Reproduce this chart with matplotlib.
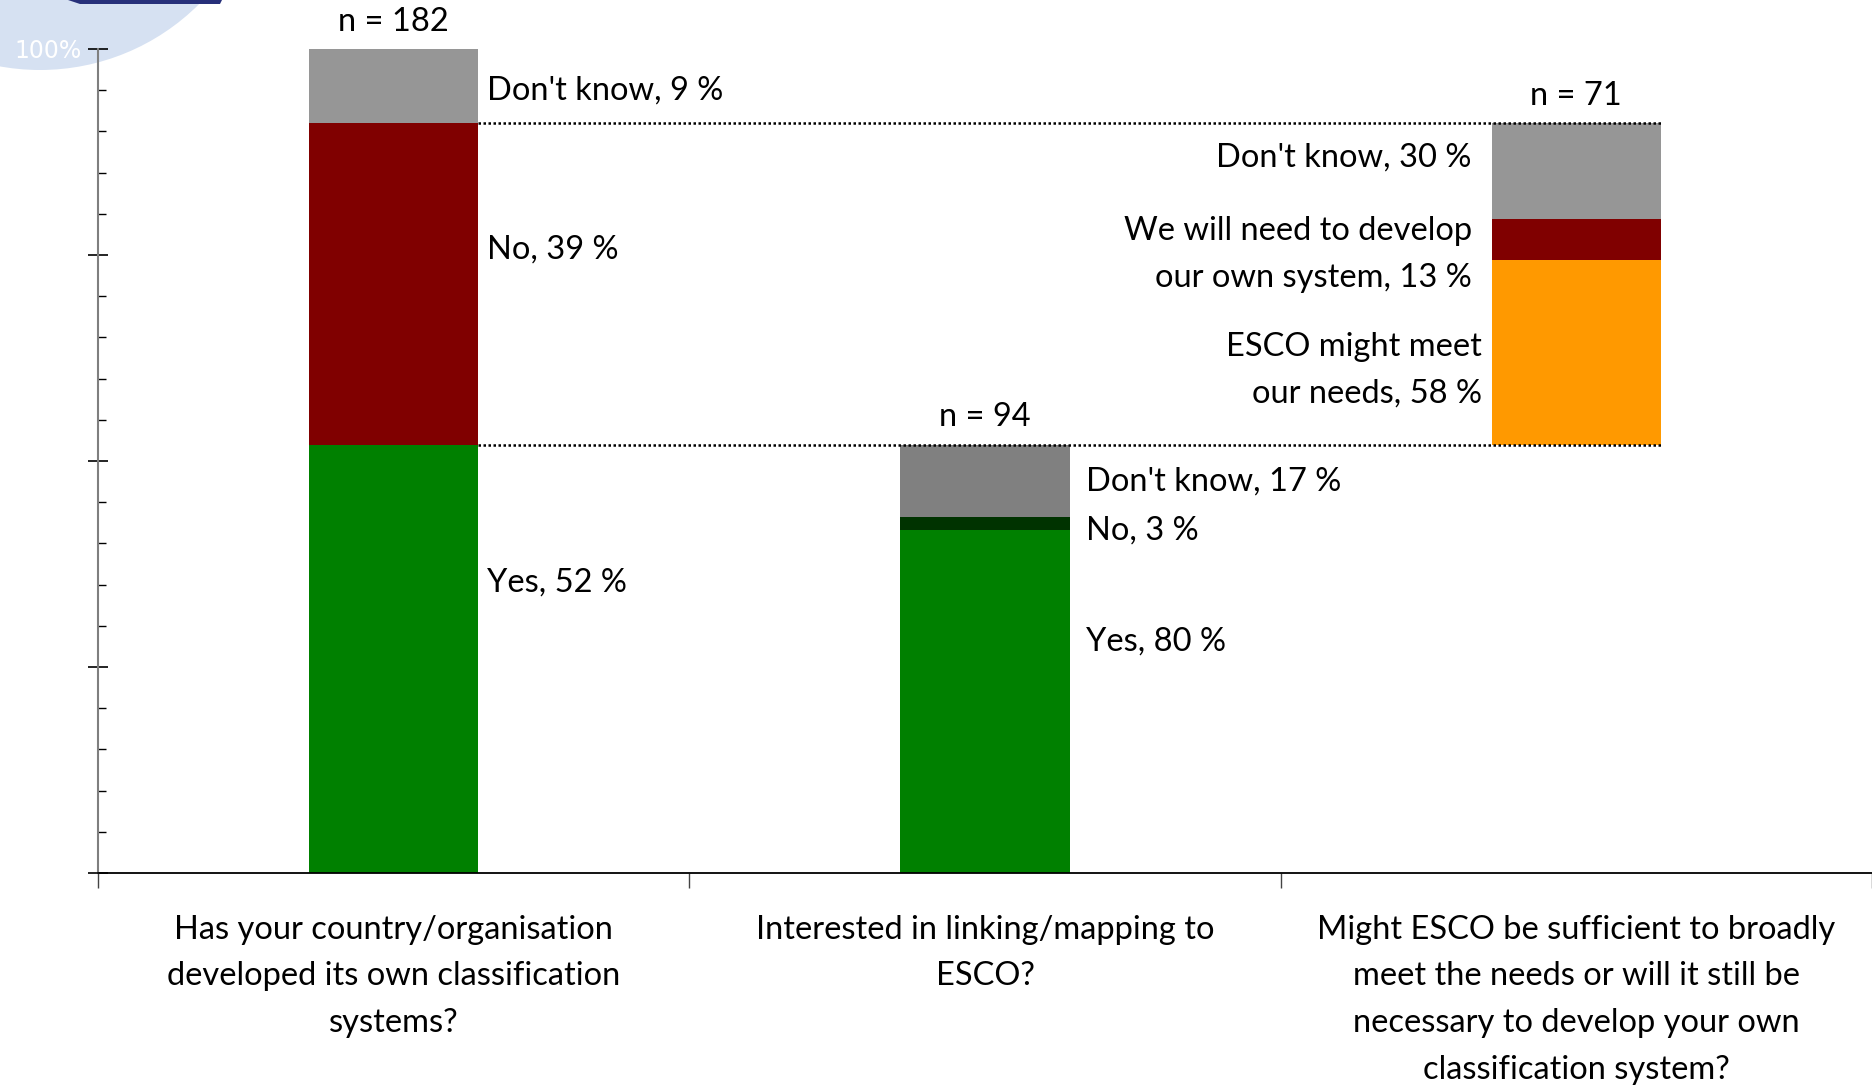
import matplotlib.pyplot as plt
from matplotlib.patches import Ellipse, Polygon

plt.rcParams['font.family'] = ['Lato', 'DejaVu Sans']

# --- data ---
questions = ["Has your country/organisation\ndeveloped its own classification\nsystems?",
             "Interested in linking/mapping to\nESCO?",
             "Might ESCO be sufficient to broadly\nmeet the needs or will it still be\nnecessary to develop your own\nclassification system?"]
n_values = [182, 94, 71]

q1_labels = ["Yes", "No", "Don't know"]
q1_values = [52, 39, 9]
q1_colors = ["#008000", "#800000", "#969696"]

q2_labels = ["Yes", "No", "Don't know"]
q2_values = [80, 3, 17]
q2_colors = ["#008000", "#003300", "#808080"]

q3_labels = ["ESCO might meet\nour needs", "We will need to develop\nour own system", "Don't know"]
q3_values = [58, 13, 30]
q3_colors = ["#FF9900", "#800000", "#969696"]

W, H = 1872, 1087
fig = plt.figure(figsize=(W / 100, H / 100), dpi=100)
fig.patch.set_facecolor("white")

# faint logo watermark in the corner (behind the axes)
fig.patches.append(Ellipse((40 / W, 1 + 155 / H), 450 / W, 450 / H, transform=fig.transFigure,
                           facecolor="#D6E1F2", edgecolor="none", zorder=-2))
fig.patches.append(Polygon([(68 / W, 1), (222 / W, 1), (220 / W, 1 - 4 / H), (80 / W, 1 - 4 / H)],
                           transform=fig.transFigure, facecolor="#27307A", edgecolor="none", zorder=-1))

ax = fig.add_axes([98 / W, 1 - 873 / H, 1 - 98 / W, (873 - 49) / H])
ax.set_facecolor("none")
ax.set_xlim(0, 3)
ax.set_ylim(0, 100)

bw = 0.286
fs = 23.5
ls = 1.7

# bar 1: full 0..100
bottom = 0
for lab, v, c in zip(q1_labels, q1_values, q1_colors):
    ax.bar(0.5, v, bw, bottom=bottom, color=c, zorder=2)
    bottom += v

# bar 2: splits the "Yes" of bar 1
base2 = q1_values[0]
bottom = 0
for lab, v, c in zip(q2_labels, q2_values, q2_colors):
    h = v / 100 * base2
    ax.bar(1.5, h, bw, bottom=bottom, color=c, zorder=2)
    bottom += h

# bar 3: splits the "No" of bar 1
base3 = q1_values[1]
bottom = q1_values[0]
for lab, v, c in zip(q3_labels, q3_values, q3_colors):
    h = v / sum(q3_values) * base3
    ax.bar(2.5, h, bw, bottom=bottom, color=c, zorder=2)
    bottom += h

# connector lines
lo = q1_values[0]
hi = q1_values[0] + q1_values[1]
ax.plot([0.5 + bw / 2, 2.5 + bw / 2], [hi, hi], color="black", ls=(0, (1, 1)), lw=1.8, zorder=3)
ax.plot([0.5 + bw / 2, 2.5 + bw / 2], [lo, lo], color="black", ls=(0, (1, 1)), lw=1.8, zorder=3)

# labels
ax.text(0.657, 94.9, "Don't know, 9 %", fontsize=fs, va="center", ha="left")
ax.text(0.657, 75.7, "No, 39 %", fontsize=fs, va="center", ha="left")
ax.text(0.657, 35.2, "Yes, 52 %", fontsize=fs, va="center", ha="left")

ax.text(1.671, 47.5, "Don't know, 17 %", fontsize=fs, va="center", ha="left")
ax.text(1.671, 41.6, "No, 3 %", fontsize=fs, va="center", ha="left")
ax.text(1.671, 28.1, "Yes, 80 %", fontsize=fs, va="center", ha="left")

ax.text(2.323, 86.8, "Don't know, 30 %", fontsize=fs, va="center", ha="right")
ax.text(2.323, 75.1, "We will need to develop\nour own system, 13 %", fontsize=fs, va="center",
        ha="right", multialignment="right", linespacing=ls)
ax.text(2.341, 61.0, "ESCO might meet\nour needs, 58 %", fontsize=fs, va="center",
        ha="right", multialignment="right", linespacing=ls)

tops = [100, base2, hi]
for i, (n, t) in enumerate(zip(n_values, tops)):
    ax.text(i + 0.5, t + 3.3, "n = %d" % n, fontsize=fs, ha="center", va="center")

# axes styling
for s in ["top", "right"]:
    ax.spines[s].set_visible(False)
ax.spines["left"].set_color("#7f7f7f")
ax.spines["left"].set_linewidth(1.5)
ax.spines["bottom"].set_color("black")
ax.spines["bottom"].set_linewidth(1.3)

ax.set_yticks([0, 25, 50, 75, 100])
ax.set_yticklabels(["0%", "25%", "50%", "75%", "100%"], color="white", fontsize=17,
                   family=["DejaVu Sans"])
ax.set_yticks(range(0, 101, 5), minor=True)
ax.tick_params(axis="y", which="major", direction="inout", length=15, width=1.2, color="black", pad=4)
ax.tick_params(axis="y", which="minor", direction="in", length=6, width=1.0, color="black")

ax.set_xticks([0, 1, 2, 3])
ax.set_xticklabels(["", "", "", ""])
ax.set_xticks([0.5, 1.5, 2.5], minor=True)
ax.set_xticklabels(questions, minor=True, fontsize=fs, linespacing=ls, va="top")
ax.tick_params(axis="x", which="major", direction="out", length=11, width=1.0, color="#444444")
ax.tick_params(axis="x", which="minor", length=0, pad=30)

fig.savefig("out.png", dpi=100)
